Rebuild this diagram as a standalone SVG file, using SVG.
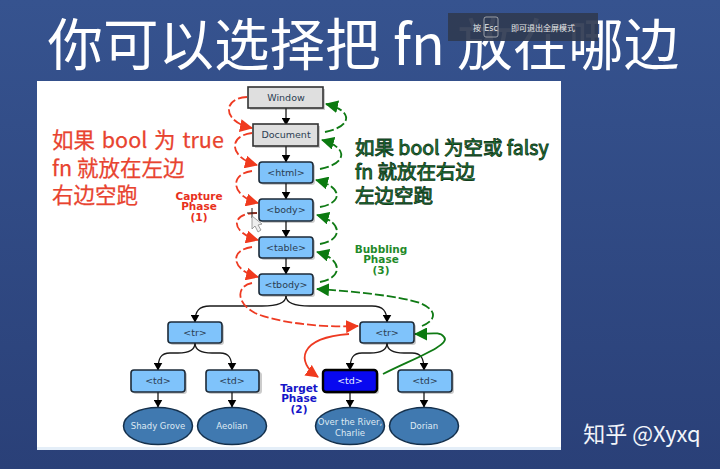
<svg xmlns="http://www.w3.org/2000/svg" width="720" height="469" viewBox="0 0 720 469">
<style>
text{font-family:"DejaVu Sans","Noto Sans CJK SC",sans-serif;text-anchor:middle}
.lbl{font-size:9.5px;fill:#2b3d52}
.lt{font-size:8.5px;fill:#dfe9f3}
.n{stroke:#1c2a38;stroke-width:1.6}
.blue{fill:#7fc3fb}
.grey{fill:#dfdfdf;stroke:#333}
.el{fill:#4079b0;stroke:#14304c;stroke-width:1.5}
.sh{fill:#000;opacity:.2}
.tree{fill:none;stroke:#1a1a1a;stroke-width:1.3;marker-end:url(#k)}
.cap{fill:none;stroke:#ee3a22;stroke-width:1.8;stroke-dasharray:9 3;marker-end:url(#r)}
.bub{fill:none;stroke:#0f7a14;stroke-width:1.8;stroke-dasharray:9 3;marker-end:url(#g)}
.ph{font-size:10.500px;font-weight:bold}
.cn{text-anchor:start;font-family:"Noto Sans CJK SC","Noto Sans",sans-serif}
.red{font-size:21.500px;fill:#e8432f;stroke:#e8432f;stroke-width:.25}
.grn{font-size:19.500px;fill:#1f8a3c;stroke:#123c1c;stroke-width:.9}
</style>
<defs>
<linearGradient id="bg" x1="0" y1="0" x2="0" y2="1"><stop offset="0" stop-color="#36538f"/><stop offset="1" stop-color="#2a4078"/></linearGradient>
<marker id="k" markerWidth="9" markerHeight="9" refX="7.500" refY="4.500" orient="auto" markerUnits="userSpaceOnUse"><path d="M0 0L8 4.500L0 9z" fill="#000"/></marker>
<marker id="r" markerWidth="14" markerHeight="13" refX="12" refY="6.500" orient="auto" markerUnits="userSpaceOnUse"><path d="M0 0L13 6.500L0 13z" fill="#f03a1e"/></marker>
<marker id="g" markerWidth="14" markerHeight="13" refX="12" refY="6.500" orient="auto" markerUnits="userSpaceOnUse"><path d="M0 0L13 6.500L0 13z" fill="#0b7a10"/></marker>
</defs>
<rect width="720" height="469" fill="url(#bg)"/>
<rect x="37" y="81" width="524" height="369" fill="#fff"/>
<rect x="37" y="447" width="524" height="3" fill="#e4eef8"/>
<text x="363.500" y="64.500" style="font-size:55.500px;font-family:'Noto Sans CJK SC','DejaVu Sans',sans-serif" fill="#fff">你可以选择把 fn 放在哪边</text>
<g id="esc-hint">
<rect x="448" y="13" width="150" height="28" fill="#2f3a52" opacity=".93"/>
<rect x="484" y="17" width="14" height="20" rx="2" fill="none" stroke="#c8c8c8" stroke-width=".7"/>
<text x="477" y="31" style="font-size:8px;font-family:'Noto Sans CJK SC',sans-serif" fill="#e8e8e8">按</text>
<text x="491" y="31" style="font-size:8px" fill="#e8e8e8">Esc</text>
<text x="543" y="31" style="font-size:8px;font-family:'Noto Sans CJK SC',sans-serif" fill="#e8e8e8">即可退出全屏模式</text>
</g>
<text x="52" y="148" class="cn red" word-spacing="2">如果 bool 为 true</text>
<text x="52" y="176" class="cn red">fn 就放在左边</text>
<text x="52" y="203" class="cn red">右边空跑</text>
<text x="355" y="155" class="cn grn">如果 bool 为空或 falsy</text>
<text x="355" y="179" class="cn grn">fn 就放在右边</text>
<text x="355" y="203" class="cn grn">左边空跑</text>
<g class="ph" fill="#e8301c"><text x="199" y="200">Capture</text><text x="199" y="210">Phase</text><text x="199" y="221">(1)</text></g>
<g class="ph" fill="#1f8a2a"><text x="381" y="253">Bubbling</text><text x="381" y="263">Phase</text><text x="381" y="274">(3)</text></g>
<g class="ph" fill="#1414c8"><text x="299" y="392">Target</text><text x="299" y="402">Phase</text><text x="299" y="413">(2)</text></g>
<g id="connectors">
<path class="tree" d="M286 108V125"/>
<path class="tree" d="M286 146V162"/>
<path class="tree" d="M286 183V199"/>
<path class="tree" d="M286 221V237"/>
<path class="tree" d="M286 258V274"/>
<path class="tree" d="M286 296C286 303 277 306 262 306H210C199 306 195 311 195 322"/>
<path class="tree" d="M286 296C286 303 295 306 310 306H372C383 306 387 311 387 322"/>
<path class="tree" d="M195 343C195 350 188 353 178 353H170C161 353 158 358 158 370"/>
<path class="tree" d="M195 343C195 350 202 353 212 353H220C229 353 232 358 232 370"/>
<path class="tree" d="M387 343C387 350 380 353 370 353H362C353 353 350 358 350 370"/>
<path class="tree" d="M387 343C387 350 394 353 404 353H412C421 353 424 358 424 370"/>
<path class="tree" d="M158 392V407"/>
<path class="tree" d="M232 392V407"/>
<path class="tree" d="M350 392V407"/>
<path class="tree" d="M424 392V407"/>
<path class="cap" d="M247 97C222 98 222 122 252 128"/>
<path class="cap" d="M252 133C227 136 230 158 257 165"/>
<path class="cap" d="M252 171C229 174 231 196 258 203"/>
<path class="cap" d="M257 213C229 213 231 233 258 240"/>
<path class="cap" d="M252 247C229 250 231 270 258 277"/>
<path class="cap" d="M252 283C236 286 236 303 255 313C275 322 320 328 358 326"/>
<path class="bub" d="M325 132C354 126 352 110 326 104"/>
<path class="bub" d="M320 169C349 163 347 147 322 140"/>
<path class="bub" d="M320 207C343 203 343 187 316 180"/>
<path class="bub" d="M320 244C343 240 343 222 317 215"/>
<path class="bub" d="M320 282C343 278 343 259 317 252"/>
<path class="bub" d="M422 326C437 320 437 310 420 303C400 296 350 291 317 289"/>
<path d="M349 334C298 338 296 362 318 377" fill="none" stroke="#ee3a22" stroke-width="1.800" marker-end="url(#r)"/>
<path d="M383 374C410 360 452 345 444 337C440 331 430 334 415 334" fill="none" stroke="#0f7a14" stroke-width="1.800" marker-end="url(#g)"/>
</g>
<g id="window"><rect class="sh" x="250" y="89" width="75" height="21"/><rect class="n grey" x="248" y="87" width="75" height="21"/><text class="lbl" x="286" y="101">Window</text></g>
<g id="document"><rect class="sh" x="255" y="126" width="65" height="22"/><rect class="n grey" x="253" y="124" width="65" height="22"/><text class="lbl" x="286" y="138">Document</text></g>
<g id="html"><rect class="sh" x="261" y="164" width="54" height="21" rx="3"/><rect class="n blue" x="259" y="162" width="54" height="21" rx="3"/><text class="lbl" x="286" y="176">&lt;html&gt;</text></g>
<g id="body"><rect class="sh" x="261" y="201" width="54" height="22" rx="3"/><rect class="n blue" x="259" y="199" width="54" height="22" rx="3"/><text class="lbl" x="286" y="213">&lt;body&gt;</text></g>
<g id="table"><rect class="sh" x="261" y="239" width="54" height="21" rx="3"/><rect class="n blue" x="259" y="237" width="54" height="21" rx="3"/><text class="lbl" x="286" y="251">&lt;table&gt;</text></g>
<g id="tbody"><rect class="sh" x="261" y="276" width="54" height="21" rx="3"/><rect class="n blue" x="259" y="274" width="54" height="21" rx="3"/><text class="lbl" x="286" y="288">&lt;tbody&gt;</text></g>
<g id="tr-left"><rect class="sh" x="170" y="324" width="54" height="21" rx="3"/><rect class="n blue" x="168" y="322" width="54" height="21" rx="3"/><text class="lbl" x="195" y="336">&lt;tr&gt;</text></g>
<g id="tr-right"><rect class="sh" x="362" y="324" width="54" height="21" rx="3"/><rect class="n blue" x="360" y="322" width="54" height="21" rx="3"/><text class="lbl" x="387" y="336">&lt;tr&gt;</text></g>
<g id="td-1"><rect class="sh" x="133" y="372" width="54" height="22" rx="3"/><rect class="n blue" x="131" y="370" width="54" height="22" rx="3"/><text class="lbl" x="158" y="384">&lt;td&gt;</text></g>
<g id="td-2"><rect class="sh" x="208" y="372" width="54" height="22" rx="3"/><rect class="n blue" x="206" y="370" width="53" height="22" rx="3"/><text class="lbl" x="232" y="384">&lt;td&gt;</text></g>
<g id="td-target"><rect class="sh" x="325" y="372" width="54" height="22" rx="3"/><rect x="323" y="370" width="54" height="22" rx="3" fill="#0808f0" stroke="#000" stroke-width="2.400"/><text class="lbl" x="350" y="384" style="fill:#e8f0ff">&lt;td&gt;</text></g>
<g id="td-4"><rect class="sh" x="400" y="372" width="54" height="22" rx="3"/><rect class="n blue" x="398" y="370" width="54" height="22" rx="3"/><text class="lbl" x="425" y="384">&lt;td&gt;</text></g>
<g id="leaf-shady"><ellipse class="el" cx="158" cy="426" rx="34.500" ry="18.500"/><text class="lt" x="158" y="429">Shady Grove</text></g>
<g id="leaf-aeolian"><ellipse class="el" cx="232" cy="426" rx="34.500" ry="18.500"/><text class="lt" x="232" y="429">Aeolian</text></g>
<g id="leaf-river"><ellipse class="el" cx="350" cy="426" rx="34.500" ry="18.500"/><text class="lt" x="350" y="425">Over the River,</text><text class="lt" x="350" y="436">Charlie</text></g>
<g id="leaf-dorian"><ellipse class="el" cx="424" cy="426" rx="34.500" ry="18.500"/><text class="lt" x="424" y="429">Dorian</text></g>
<g id="pointer">
<path d="M247 213H257M252 208V218" stroke="#222" stroke-width="1"/>
<path d="M252 216L252 229 255 226 258 232 261 230 258 225 262 224z" fill="#eee" stroke="#888" stroke-width=".8"/>
</g>
<text x="642" y="442" style="font-size:22px;font-family:'Noto Sans CJK SC','Noto Sans',sans-serif" fill="#f2f5fa">知乎 @Xyxq</text>
</svg>
